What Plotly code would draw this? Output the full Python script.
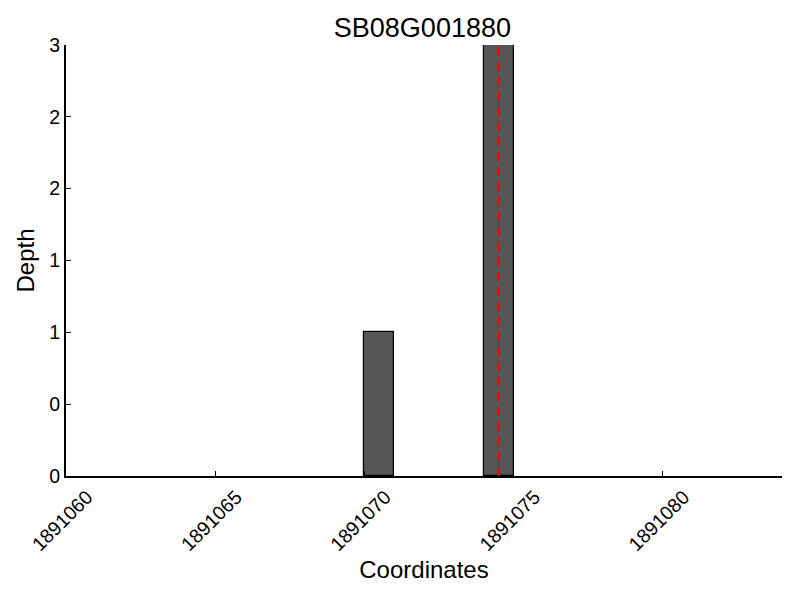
import plotly.graph_objects as go

# Data
bar_starts = [1891070, 1891074]
bar_depths = [1, 3]
marker_position = 1891074.5
x_tick_vals = [1891060, 1891065, 1891070, 1891075, 1891080]
y_tick_vals = [0, 0.5, 1, 1.5, 2, 2.5, 3]
y_tick_labels = ["0", "0", "1", "1", "2", "2", "3"]
title_text = "SB08G001880"

font_family = "Liberation Sans, Arial, sans-serif"

fig = go.Figure()
fig.add_trace(go.Bar(
    x=[s + 0.5 for s in bar_starts],
    y=bar_depths,
    width=[1] * len(bar_starts),
    marker=dict(color="#555555", line=dict(color="black", width=1.2)),
    showlegend=False,
))

fig.add_shape(type="line", x0=marker_position, x1=marker_position, y0=0, y1=3,
              xref="x", yref="y", line=dict(color="#ff0000", width=2, dash="9px,6px"))

fig.update_layout(
    width=800, height=600,
    margin=dict(l=58, r=26, t=37, b=132),
    plot_bgcolor="white", paper_bgcolor="white",
    font=dict(family=font_family, color="black"),
    title=dict(text=title_text, x=0.518, xanchor="center", y=0.9675, yanchor="middle",
               font=dict(size=27, family=font_family, color="black")),
    bargap=0,
)
fig.update_xaxes(
    range=[1891060, 1891084], tickvals=x_tick_vals,
    ticktext=[str(v) for v in x_tick_vals],
    tickangle=-45, ticks="inside", ticklen=5, tickcolor="black",
    ticklabelshift=21,
    showline=True, linecolor="black", linewidth=2, mirror=False,
    showgrid=False, zeroline=False, automargin=False,
    tickfont=dict(size=19.5),
    title=dict(text="Coordinates", font=dict(size=24), standoff=7),
)
fig.update_yaxes(
    range=[0, 3], tickvals=y_tick_vals, ticktext=y_tick_labels,
    ticks="inside", ticklen=5, tickcolor="black",
    showline=True, linecolor="black", linewidth=2, mirror=False,
    showgrid=False, zeroline=False, automargin=False,
    tickfont=dict(size=19.5),
    title=dict(text="Depth", font=dict(size=24), standoff=8),
)

fig.write_html("out.html")
